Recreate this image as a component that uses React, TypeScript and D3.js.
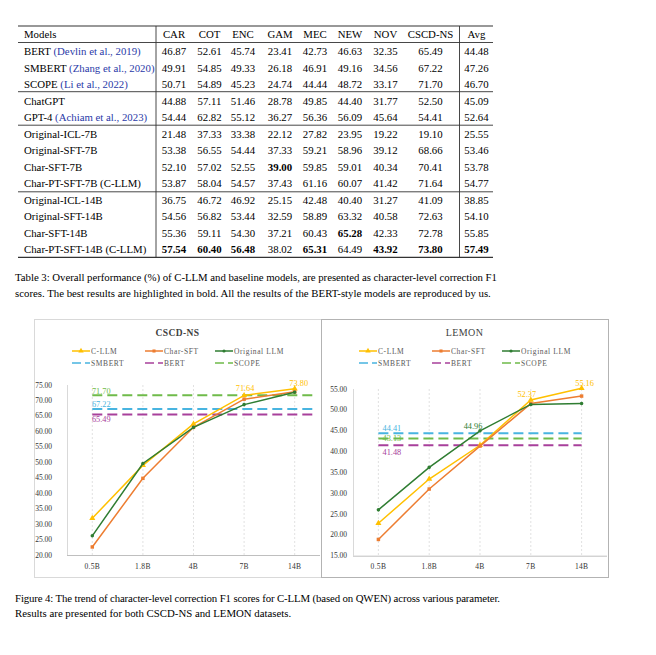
import React from 'react';
import * as d3 from 'd3';

// ---------------- DATA ----------------
const tableColumns = ["CAR", "COT", "ENC", "GAM", "MEC", "NEW", "NOV", "CSCD-NS", "Avg"];
const tableModels = [
  "BERT", "SMBERT", "SCOPE", "ChatGPT", "GPT-4",
  "Original-ICL-7B", "Original-SFT-7B", "Char-SFT-7B", "Char-PT-SFT-7B (C-LLM)",
  "Original-ICL-14B", "Original-SFT-14B", "Char-SFT-14B", "Char-PT-SFT-14B (C-LLM)",
];
const tableCitations = [
  "(Devlin et al., 2019)", "(Zhang et al., 2020)", "(Li et al., 2022)", "", "(Achiam et al., 2023)",
  "", "", "", "", "", "", "", "",
];
const tableValues = [
  ["46.87", "52.61", "45.74", "23.41", "42.73", "46.63", "32.35", "65.49", "44.48"],
  ["49.91", "54.85", "49.33", "26.18", "46.91", "49.16", "34.56", "67.22", "47.26"],
  ["50.71", "54.89", "45.23", "24.74", "44.44", "48.72", "33.17", "71.70", "46.70"],
  ["44.88", "57.11", "51.46", "28.78", "49.85", "44.40", "31.77", "52.50", "45.09"],
  ["54.44", "62.82", "55.12", "36.27", "56.36", "56.09", "45.64", "54.41", "52.64"],
  ["21.48", "37.33", "33.38", "22.12", "27.82", "23.95", "19.22", "19.10", "25.55"],
  ["53.38", "56.55", "54.44", "37.33", "59.21", "58.96", "39.12", "68.66", "53.46"],
  ["52.10", "57.02", "52.55", "39.00", "59.85", "59.01", "40.34", "70.41", "53.78"],
  ["53.87", "58.04", "54.57", "37.43", "61.16", "60.07", "41.42", "71.64", "54.77"],
  ["36.75", "46.72", "46.92", "25.15", "42.48", "40.40", "31.27", "41.09", "38.85"],
  ["54.56", "56.82", "53.44", "32.59", "58.89", "63.32", "40.58", "72.63", "54.10"],
  ["55.36", "59.11", "54.30", "37.21", "60.43", "65.28", "42.33", "72.78", "55.85"],
  ["57.54", "60.40", "56.48", "38.02", "65.31", "64.49", "43.92", "73.80", "57.49"],
];
const tableBoldCells = ["7-3", "11-5", "12-0", "12-1", "12-2", "12-4", "12-6", "12-7", "12-8"];

const tableCaption = [
  "Table 3: Overall performance (%) of C-LLM and baseline models, are presented as character-level correction F1",
  "scores. The best results are highlighted in bold. All the results of the BERT-style models are reproduced by us.",
];
const figureCaption = [
  "Figure 4: The trend of character-level correction F1 scores for C-LLM (based on QWEN) across various parameter.",
  "Results are presented for both CSCD-NS and LEMON datasets.",
];

const modelSizes = ["0.5B", "1.8B", "4B", "7B", "14B"];
const seriesNames = ["C-LLM", "Char-SFT", "Original LLM"];
const baselineNames = ["SMBERT", "BERT", "SCOPE"];

const cscdCLLM = [31.9, 49.0, 62.4, 71.64, 73.80];
const cscdCharSFT = [22.6, 44.8, 61.3, 70.41, 72.78];
const cscdOriginal = [26.2, 49.6, 61.3, 68.66, 72.63];
const cscdBaselines = [67.22, 65.49, 71.70];
const cscdTicks = [20, 25, 30, 35, 40, 45, 50, 55, 60, 65, 70, 75];

const lemonCLLM = [22.8, 33.4, 41.5, 52.37, 55.16];
const lemonCharSFT = [18.9, 31.0, 41.3, 51.5, 53.3];
const lemonOriginal = [26.0, 36.2, 44.96, 51.3, 51.5];
const lemonBaselines = [44.41, 41.48, 43.13];
const lemonTicks = [15, 20, 25, 30, 35, 40, 45, 50, 55];

// ---------------- STYLE ----------------
const SERIF = "'Liberation Serif', 'Times New Roman', serif";
const seriesColors = ["#FFC000", "#ED7D31", "#2F7D32"];
const baselineColors = ["#48B4E0", "#A8409B", "#6FBB4A"];
const seriesSymbols = [d3.symbolTriangle, d3.symbolSquare, d3.symbolCircle];
const symbolSizes = [16, 12, 10];

type ChartCfg = {
  title: string; titleBold: boolean;
  frame: [number, number, number, number]; frameColor: string;
  plot: [number, number, number, number];
  domain: [number, number]; ticks: number[]; tickGap: number;
  series: number[][]; baselines: number[];
  baselineExt: number;
  baselineLabelDx: number; baselineLabelDy: number[];
  pointLabels: { s: number; i: number; dx: number; dy: number; color: string }[];
};

function Chart({ c }: { c: ChartCfg }) {
  const [fx0, fy0, fx1, fy1] = c.frame;
  const [px0, px1, py0, py1] = c.plot;
  const x = d3.scaleBand<string>().domain(modelSizes).range([px0, px1]);
  const xc = (s: string) => (x(s) as number) + x.bandwidth() / 2;
  const y = d3.scaleLinear().domain(c.domain).range([py1, py0]);
  const line = d3.line<number>().x((_, i) => xc(modelSizes[i])).y((v) => y(v));
  const legendX = [38, 111, 181];
  const legendY = [351, 363];
  const fmt = d3.format('.2f');
  const bx0 = xc(modelSizes[0]);
  const bx1 = xc(modelSizes[modelSizes.length - 1]) + c.baselineExt;
  return (
    <g>
      <rect x={fx0 + 0.5} y={fy0 + 0.5} width={fx1 - fx0} height={fy1 - fy0} fill="#fff" stroke={c.frameColor} strokeWidth={1} />
      <text x={(fx0 + fx1) / 2} y={335.5} textAnchor="middle" fontFamily={SERIF} fontSize={c.titleBold ? 9.5 : 10}
        fontWeight={c.titleBold ? 'bold' : 'normal'} fill="#404040" letterSpacing={0.4}>{c.title}</text>
      {seriesNames.map((n, i) => {
        const lx = fx0 + legendX[i];
        const ly = legendY[0];
        return (
          <g key={n}>
            <line x1={lx} x2={lx + 18} y1={ly} y2={ly} stroke={seriesColors[i]} strokeWidth={1.5} />
            <path d={d3.symbol().type(seriesSymbols[i]).size(symbolSizes[i] * 0.8)() as string}
              transform={`translate(${lx + 9},${ly})`} fill={seriesColors[i]} />
            <text x={lx + 19} y={ly + 2.7} fontFamily={SERIF} fontSize={7.5} letterSpacing={0.6} fill="#595959">{n}</text>
          </g>
        );
      })}
      {baselineNames.map((n, i) => {
        const lx = fx0 + legendX[i];
        const ly = legendY[1];
        return (
          <g key={n}>
            <line x1={lx} x2={lx + 18} y1={ly} y2={ly} stroke={baselineColors[i]} strokeWidth={1.5} strokeDasharray="9,4" />
            <text x={lx + 19} y={ly + 2.7} fontFamily={SERIF} fontSize={7.5} letterSpacing={0.6} fill="#595959">{n}</text>
          </g>
        );
      })}
      {modelSizes.map((s) => (
        <line key={s} x1={xc(s)} x2={xc(s)} y1={py0} y2={py1} stroke="#d9d9d9" strokeWidth={0.8} strokeDasharray="2,2" />
      ))}
      <line x1={px0 + 0.5} x2={px0 + 0.5} y1={py0} y2={py1} stroke="#d9d9d9" strokeWidth={1} />
      <line x1={px0} x2={px1} y1={py1 + 0.5} y2={py1 + 0.5} stroke="#bfbfbf" strokeWidth={1} />
      {c.ticks.map((t) => (
        <text key={t} x={px0 - c.tickGap} y={y(t) + 2.5} textAnchor="end" fontFamily={SERIF}
          fontSize={7.5} fill="#333">{fmt(t)}</text>
      ))}
      {modelSizes.map((s) => (
        <text key={s} x={xc(s)} y={568.5} textAnchor="middle" fontFamily={SERIF} fontSize={7.5} letterSpacing={0.3} fill="#333">{s}</text>
      ))}
      {c.baselines.map((v, i) => (
        <g key={i}>
          <line x1={bx0} x2={bx1} y1={y(v)} y2={y(v)} stroke={baselineColors[i]} strokeWidth={2} strokeDasharray="10,5" />
          <text x={bx0 + c.baselineLabelDx} y={y(v) + c.baselineLabelDy[i] + 2.8} textAnchor="middle" fontFamily={SERIF}
            fontSize={8.3} fill={baselineColors[i]}>{fmt(v)}</text>
        </g>
      ))}
      {c.series.map((vals, si) => (
        <g key={si}>
          <path d={line(vals) as string} fill="none" stroke={seriesColors[si]} strokeWidth={1.5} />
          {vals.map((v, i) => (
            <path key={i} d={d3.symbol().type(seriesSymbols[si]).size(symbolSizes[si])() as string}
              transform={`translate(${xc(modelSizes[i])},${y(v)})`} fill={seriesColors[si]} />
          ))}
        </g>
      ))}
      {c.pointLabels.map((p, k) => {
        const v = c.series[p.s][p.i];
        return (
          <text key={k} x={xc(modelSizes[p.i]) + p.dx} y={y(v) + p.dy + 2.8} textAnchor="middle" fontFamily={SERIF}
            fontSize={8.3} fill={p.color}>{fmt(v)}</text>
        );
      })}
    </g>
  );
}

function Table() {
  const colX = [174, 209.5, 243, 280, 315, 350, 385.5, 430.5, 476.5];
  const rowY = (i: number) => 55 + i * 16.5;
  const ruleY = [26, 42.5, 91.7, 125.2, 191.8, 257.3];
  const fs = 10.8;
  return (
    <g fontFamily={SERIF} fontSize={fs} fill="#000">
      {ruleY.map((ry, k) => (
        <line key={k} x1={18} x2={493} y1={ry} y2={ry} stroke="#333"
          strokeWidth={k === 0 || k === ruleY.length - 1 ? 1.2 : 0.9} />
      ))}
      <line x1={156} x2={156} y1={26} y2={257.3} stroke="#333" strokeWidth={0.9} />
      <line x1={459.5} x2={459.5} y1={26} y2={257.3} stroke="#333" strokeWidth={0.9} />
      <text x={24} y={37.5}>Models</text>
      {tableColumns.map((c, j) => (
        <text key={c} x={colX[j]} y={37.5} textAnchor="middle">{c}</text>
      ))}
      {tableModels.map((m, i) => (
        <g key={m}>
          <text x={24} y={rowY(i)}>
            {m}
            {tableCitations[i] ? <tspan fill="#2a3aa8">{' ' + tableCitations[i]}</tspan> : null}
          </text>
          {tableValues[i].map((v, j) => (
            <text key={j} x={colX[j]} y={rowY(i)} textAnchor="middle"
              fontWeight={tableBoldCells.includes(`${i}-${j}`) ? 'bold' : 'normal'}>{v}</text>
          ))}
        </g>
      ))}
    </g>
  );
}

export default function App() {
  const left: ChartCfg = {
    title: 'CSCD-NS', titleBold: true,
    frame: [34, 319, 321, 577], frameColor: '#d9d9d9',
    plot: [67, 320, 385, 555], domain: [20, 75], ticks: cscdTicks, tickGap: 15,
    series: [cscdCLLM, cscdCharSFT, cscdOriginal], baselines: cscdBaselines,
    baselineExt: 18, baselineLabelDx: 9, baselineLabelDy: [-5, 5, -4],
    pointLabels: [
      { s: 0, i: 3, dx: 1, dy: -7, color: '#FFC000' },
      { s: 0, i: 4, dx: 4, dy: -6, color: '#FFC000' },
    ],
  };
  const right: ChartCfg = {
    title: 'LEMON', titleBold: false,
    frame: [321, 319, 608, 577], frameColor: '#b3b3b3',
    plot: [353, 607, 389, 555.7], domain: [15, 55], ticks: lemonTicks, tickGap: 6,
    series: [lemonCLLM, lemonCharSFT, lemonOriginal], baselines: lemonBaselines,
    baselineExt: 0, baselineLabelDx: 13.5, baselineLabelDy: [-5.4, 6.4, -0.4],
    pointLabels: [
      { s: 2, i: 2, dx: -7, dy: -5, color: '#2F7D32' },
      { s: 0, i: 3, dx: -4, dy: -6, color: '#FFC000' },
      { s: 0, i: 4, dx: 3, dy: -5.5, color: '#FFC000' },
    ],
  };
  return (
    <svg width={656} height={655} style={{ position: 'absolute', left: 0, top: 0, background: '#fff' }}>
      <rect width={656} height={655} fill="#fff" />
      <Table />
      <g fontFamily={SERIF} fontSize={10.8} fill="#000">
        <text x={15} y={280.5} textLength={482} lengthAdjust="spacing">{tableCaption[0]}</text>
        <text x={15} y={297}>{tableCaption[1]}</text>
      </g>
      <Chart c={left} />
      <Chart c={right} />
      <g fontFamily={SERIF} fontSize={10.8} fill="#000">
        <text x={15} y={602} textLength={485} lengthAdjust="spacing">{figureCaption[0]}</text>
        <text x={15} y={617}>{figureCaption[1]}</text>
      </g>
    </svg>
  );
}
